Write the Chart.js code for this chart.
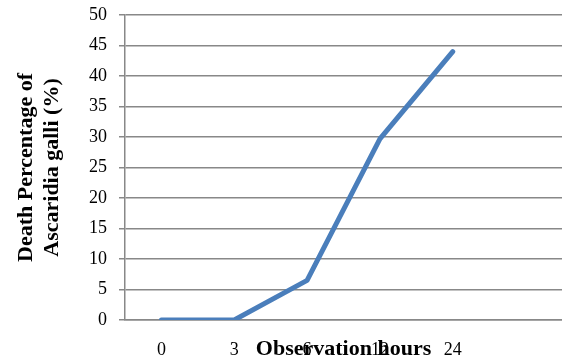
<!DOCTYPE html>
<html>
<head>
<meta charset="utf-8">
<script src="https://cdn.jsdelivr.net/npm/chart.js@4/dist/chart.umd.min.js"></script>
<style>
  html, body { margin: 0; padding: 0; background: #fff; }
  #wrap { width: 562px; height: 364px; }
</style>
</head>
<body>
<div id="wrap"><canvas id="lineChart"></canvas></div>
<script>
// observation hours and death percentage
const hours = ["0", "3", "6", "12", "24", ""];
const deathPct = [0, 0, 6.5, 29.7, 44, null];
const yTicks = [0, 5, 10, 15, 20, 25, 30, 35, 40, 45, 50];

const gridGray = "#888888";
const serif = "'Liberation Serif', 'DejaVu Serif', serif";

let ctx = document.getElementById("lineChart").getContext("2d");
let lineChart = new Chart(ctx, {
    type: "line",
    data: {
        labels: hours,
        datasets: [
            {
                label: "Death percentage",
                data: deathPct,
                borderColor: "#4a7ebb",
                backgroundColor: "#4a7ebb",
                borderWidth: 5,
                borderCapStyle: "round",
                borderJoinStyle: "round",
                pointRadius: 0,
                tension: 0
            }
        ]
    },
    options: {
        responsive: true,
        maintainAspectRatio: false,
        animation: false,
        layout: { padding: { left: 13, right: 0, top: 0, bottom: 0 } },
        plugins: {
            legend: { display: false },
            tooltip: { enabled: false }
        },
        scales: {
            x: {
                offset: true,
                grid: { display: false, drawTicks: false },
                border: { display: true, color: gridGray, width: 1.5 },
                ticks: {
                    color: "#000",
                    padding: 19,
                    maxRotation: 0,
                    autoSkip: false,
                    font: { family: serif, size: 18 }
                },
                title: {
                    display: true,
                    text: "Observation hours",
                    color: "#000",
                    padding: { top: 0, bottom: 1 },
                    font: { family: serif, size: 22, weight: "bold" }
                },
                // tick labels and title share one band, like the original
                afterFit: (scale) => {
                    scale.height = 44;
                }
            },
            y: {
                min: 0,
                max: 50,
                afterBuildTicks: (scale) => {
                    scale.ticks = yTicks.map((v) => ({ value: v }));
                },
                grid: { color: gridGray, lineWidth: 1.5, tickLength: 6 },
                border: { display: true, color: gridGray, width: 1.5 },
                ticks: {
                    color: "#000",
                    padding: 12,
                    font: { family: serif, size: 18 }
                },
                title: {
                    display: true,
                    text: ["Death Percentage of", "Ascaridia galli (%)"],
                    color: "#000",
                    padding: { top: 0, bottom: 0 },
                    font: { family: serif, size: 22, weight: "bold", lineHeight: 1.2 }
                },
                afterFit: (scale) => {
                    scale.width = 112;
                    scale.paddingTop = 15;
                }
            }
        }
    }
});
</script>
</body>
</html>
